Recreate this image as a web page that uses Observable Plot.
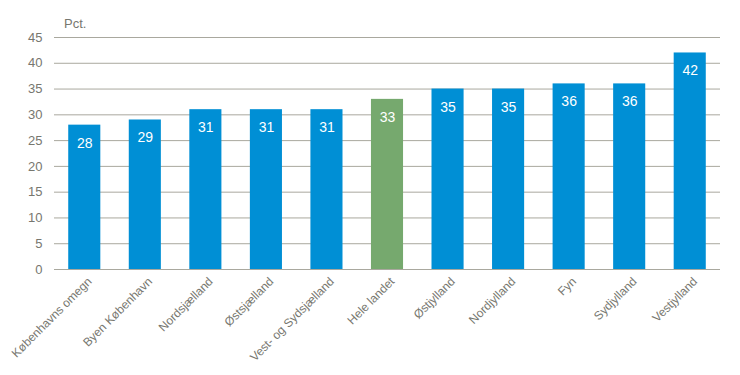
<!DOCTYPE html>
<html>
<head>
<meta charset="utf-8">
<script src="https://cdn.jsdelivr.net/npm/d3@7"></script>
<script src="https://cdn.jsdelivr.net/npm/@observablehq/plot@0.6"></script>
<style>
  body { margin: 0; background: #fff; }
  #chart { position: relative; width: 740px; height: 375px; }
  #unit { position: absolute; left: 64px; top: 16px; font: 13px "Liberation Sans", Arial, sans-serif; color: #77776f; }
</style>
</head>
<body>
<div id="chart"><div id="unit">Pct.</div></div>
<script>
const regions = ["Københavns omegn", "Byen København", "Nordsjælland", "Østsjælland", "Vest- og Sydsjælland", "Hele landet", "Østjylland", "Nordjylland", "Fyn", "Sydjylland", "Vestjylland"];
const values = [28, 29, 31, 31, 31, 33, 35, 35, 36, 36, 42];
const highlight = "Hele landet";
const yTicks = [0, 5, 10, 15, 20, 25, 30, 35, 40, 45];

const data = regions.map((r, i) => ({region: r, value: values[i], group: r === highlight ? "total" : "region"}));

const plot = Plot.plot({
  width: 740,
  height: 375,
  marginTop: 37,
  marginBottom: 106,
  marginLeft: 54,
  marginRight: 20,
  style: {fontFamily: "'Liberation Sans', Arial, sans-serif", fontSize: "13px", color: "#77776f", background: "#fff"},
  x: {domain: regions, paddingInner: 0.47, paddingOuter: 0.235, round: false, label: null},
  y: {domain: [0, 45], ticks: yTicks, label: null},
  color: {domain: ["region", "total"], range: ["#008fd5", "#76a96e"]},
  marks: [
    Plot.gridY(yTicks, {stroke: "#a9a89e", strokeOpacity: 1, strokeWidth: 1}),
    Plot.axisY({ticks: yTicks, tickSize: 0, tickPadding: 12, label: null, fontSize: 13}),
    Plot.axisX({tickSize: 0, tickRotate: -45, tickPadding: 10, dx: 5, label: null, fontSize: 12, letterSpacing: "-0.2px"}),
    Plot.barY(data, {x: "region", y: "value", fill: "group"}),
    Plot.text(data, {x: "region", y: "value", text: d => String(d.value), dy: 18, fill: "white", fontSize: 14, fontWeight: "normal"})
  ]
});
document.getElementById("chart").appendChild(plot);
</script>
</body>
</html>
